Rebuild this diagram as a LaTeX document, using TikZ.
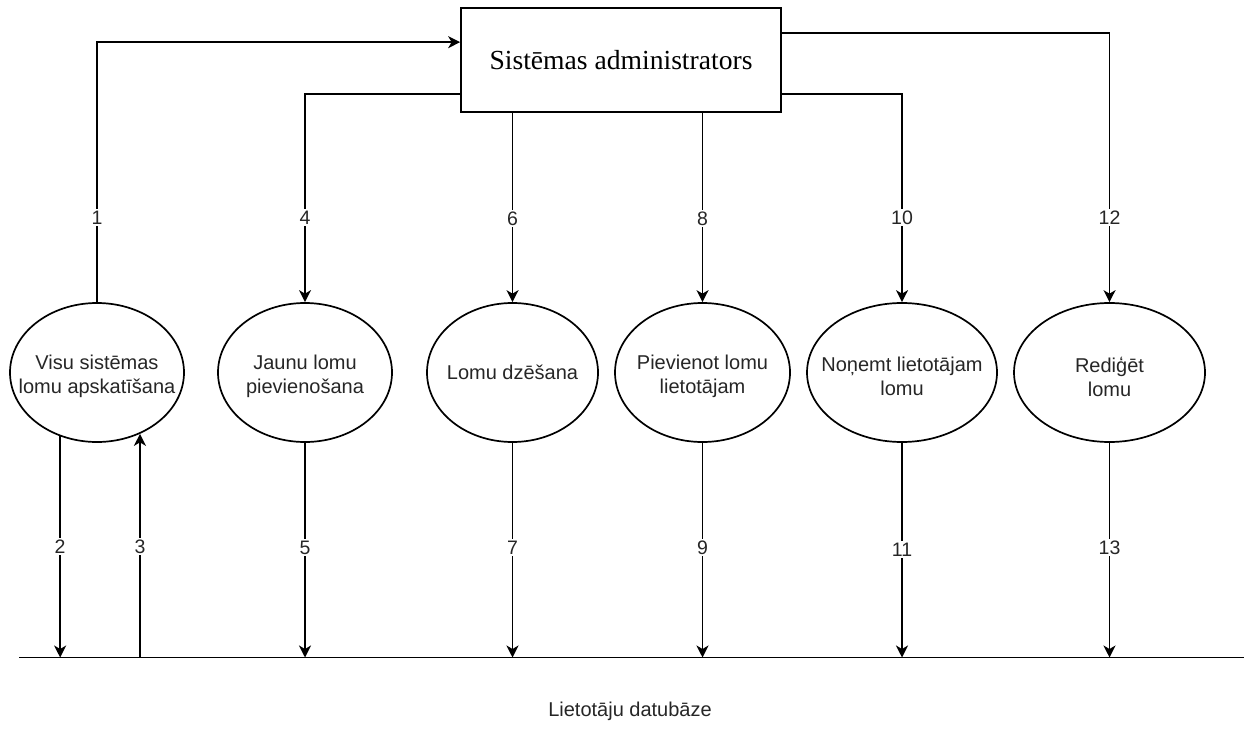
\documentclass[tikz,border=0pt]{standalone}
\usepackage{fontspec}
\setmainfont{Liberation Sans}
\newfontfamily\boxfont{Liberation Serif}
\usetikzlibrary{shapes.geometric,arrows.meta,calc}
\begin{document}
\begin{tikzpicture}[x=1pt,y=-1pt,
  ln/.style={line width=1.7pt, draw=black},
  arr/.style={ln, -{Stealth[length=12pt,width=12pt,inset=3.5pt]}},
  proc/.style={ellipse, draw=black, line width=1.7pt, minimum height=139pt, inner sep=0pt},
  ptext/.style={align=center, font=\fontsize{20}{24}\selectfont, text=black!85},
  ptwo/.style={ptext, yshift=-4pt},
  lbl/.style={fill=white, inner sep=1.5pt, font=\fontsize{19.5}{23}\selectfont, text=black!85},
  boxst/.style={draw=black, line width=1.7pt, minimum width=320pt, minimum height=104pt, inner sep=0pt, font=\boxfont\fontsize{27.6}{32}\selectfont}]
\useasboundingbox (0,0) rectangle (1244,752);

% main entity
\node[boxst] (box) at (621,60) {Sistēmas administrators};

% processes
\node[proc, minimum width=174pt, label={[ptwo]center:Visu sistēmas\\lomu apskatīšana}] (e1) at (97,372.5) {};
\node[proc, minimum width=174pt, label={[ptwo]center:Jaunu lomu\\pievienošana}] (e2) at (305,372.5) {};
\node[proc, minimum width=171pt, label={[ptext]center:Lomu dzēšana}] (e3) at (512.5,372.5) {};
\node[proc, minimum width=175pt, label={[ptwo]center:Pievienot lomu\\lietotājam}] (e4) at (702.5,372.5) {};
\node[proc, minimum width=190pt, label={[ptwo]center:Noņemt lietotājam\\lomu}] (e5) at (902,372.5) {};
\node[proc, minimum width=191pt, label={[ptwo]center:Rediģēt\\lomu}] (e6) at (1109.5,372.5) {};

% attachment points on the box
\coordinate (bw1) at ($(box.north west)+(0,35)$);
\coordinate (bw2) at ($(box.north west)+(0,87)$);
\coordinate (be1) at ($(box.north east)+(0,26)$);
\coordinate (be2) at ($(box.north east)+(0,87)$);

% database line
\coordinate (dbL) at (19,657.5);
\coordinate (dbR) at (1244,657.5);
\draw[ln] (dbL) -- (dbR);
\node[ptext] (db) at (630,711) {Lietotāju datubāze};

% top connectors
\draw[arr] (e1.north) |- node[lbl, pos=0.163] {1} (bw1);
\draw[arr] (bw2) -| node[lbl, pos=0.797] {4} (e2.north);
\draw[arr] (box.south -| e3.north) -- node[lbl, pos=0.56] {6} (e3.north);
\draw[arr] (box.south -| e4.north) -- node[lbl, pos=0.56] {8} (e4.north);
\draw[arr] (be2) -| node[lbl, pos=0.797] {10} (e5.north);
\draw[arr] (be1) -| node[lbl, pos=0.843] {12} (e6.north);

% bottom connectors
\draw[arr] (e1.240.4) -- node[lbl, pos=0.497] {2} (e1.240.4 |- dbL);
\draw[arr] (e1.305.5 |- dbL) -- node[lbl, pos=0.496] {3} (e1.305.5);
\draw[arr] (e2.south) -- node[lbl, pos=0.487] {5} (e2.south |- dbL);
\draw[arr] (e3.south) -- node[lbl, pos=0.487] {7} (e3.south |- dbL);
\draw[arr] (e4.south) -- node[lbl, pos=0.487] {9} (e4.south |- dbL);
\draw[arr] (e5.south) -- node[lbl, pos=0.497] {11} (e5.south |- dbL);
\draw[arr] (e6.south) -- node[lbl, pos=0.487] {13} (e6.south |- dbL);
\end{tikzpicture}
\end{document}
